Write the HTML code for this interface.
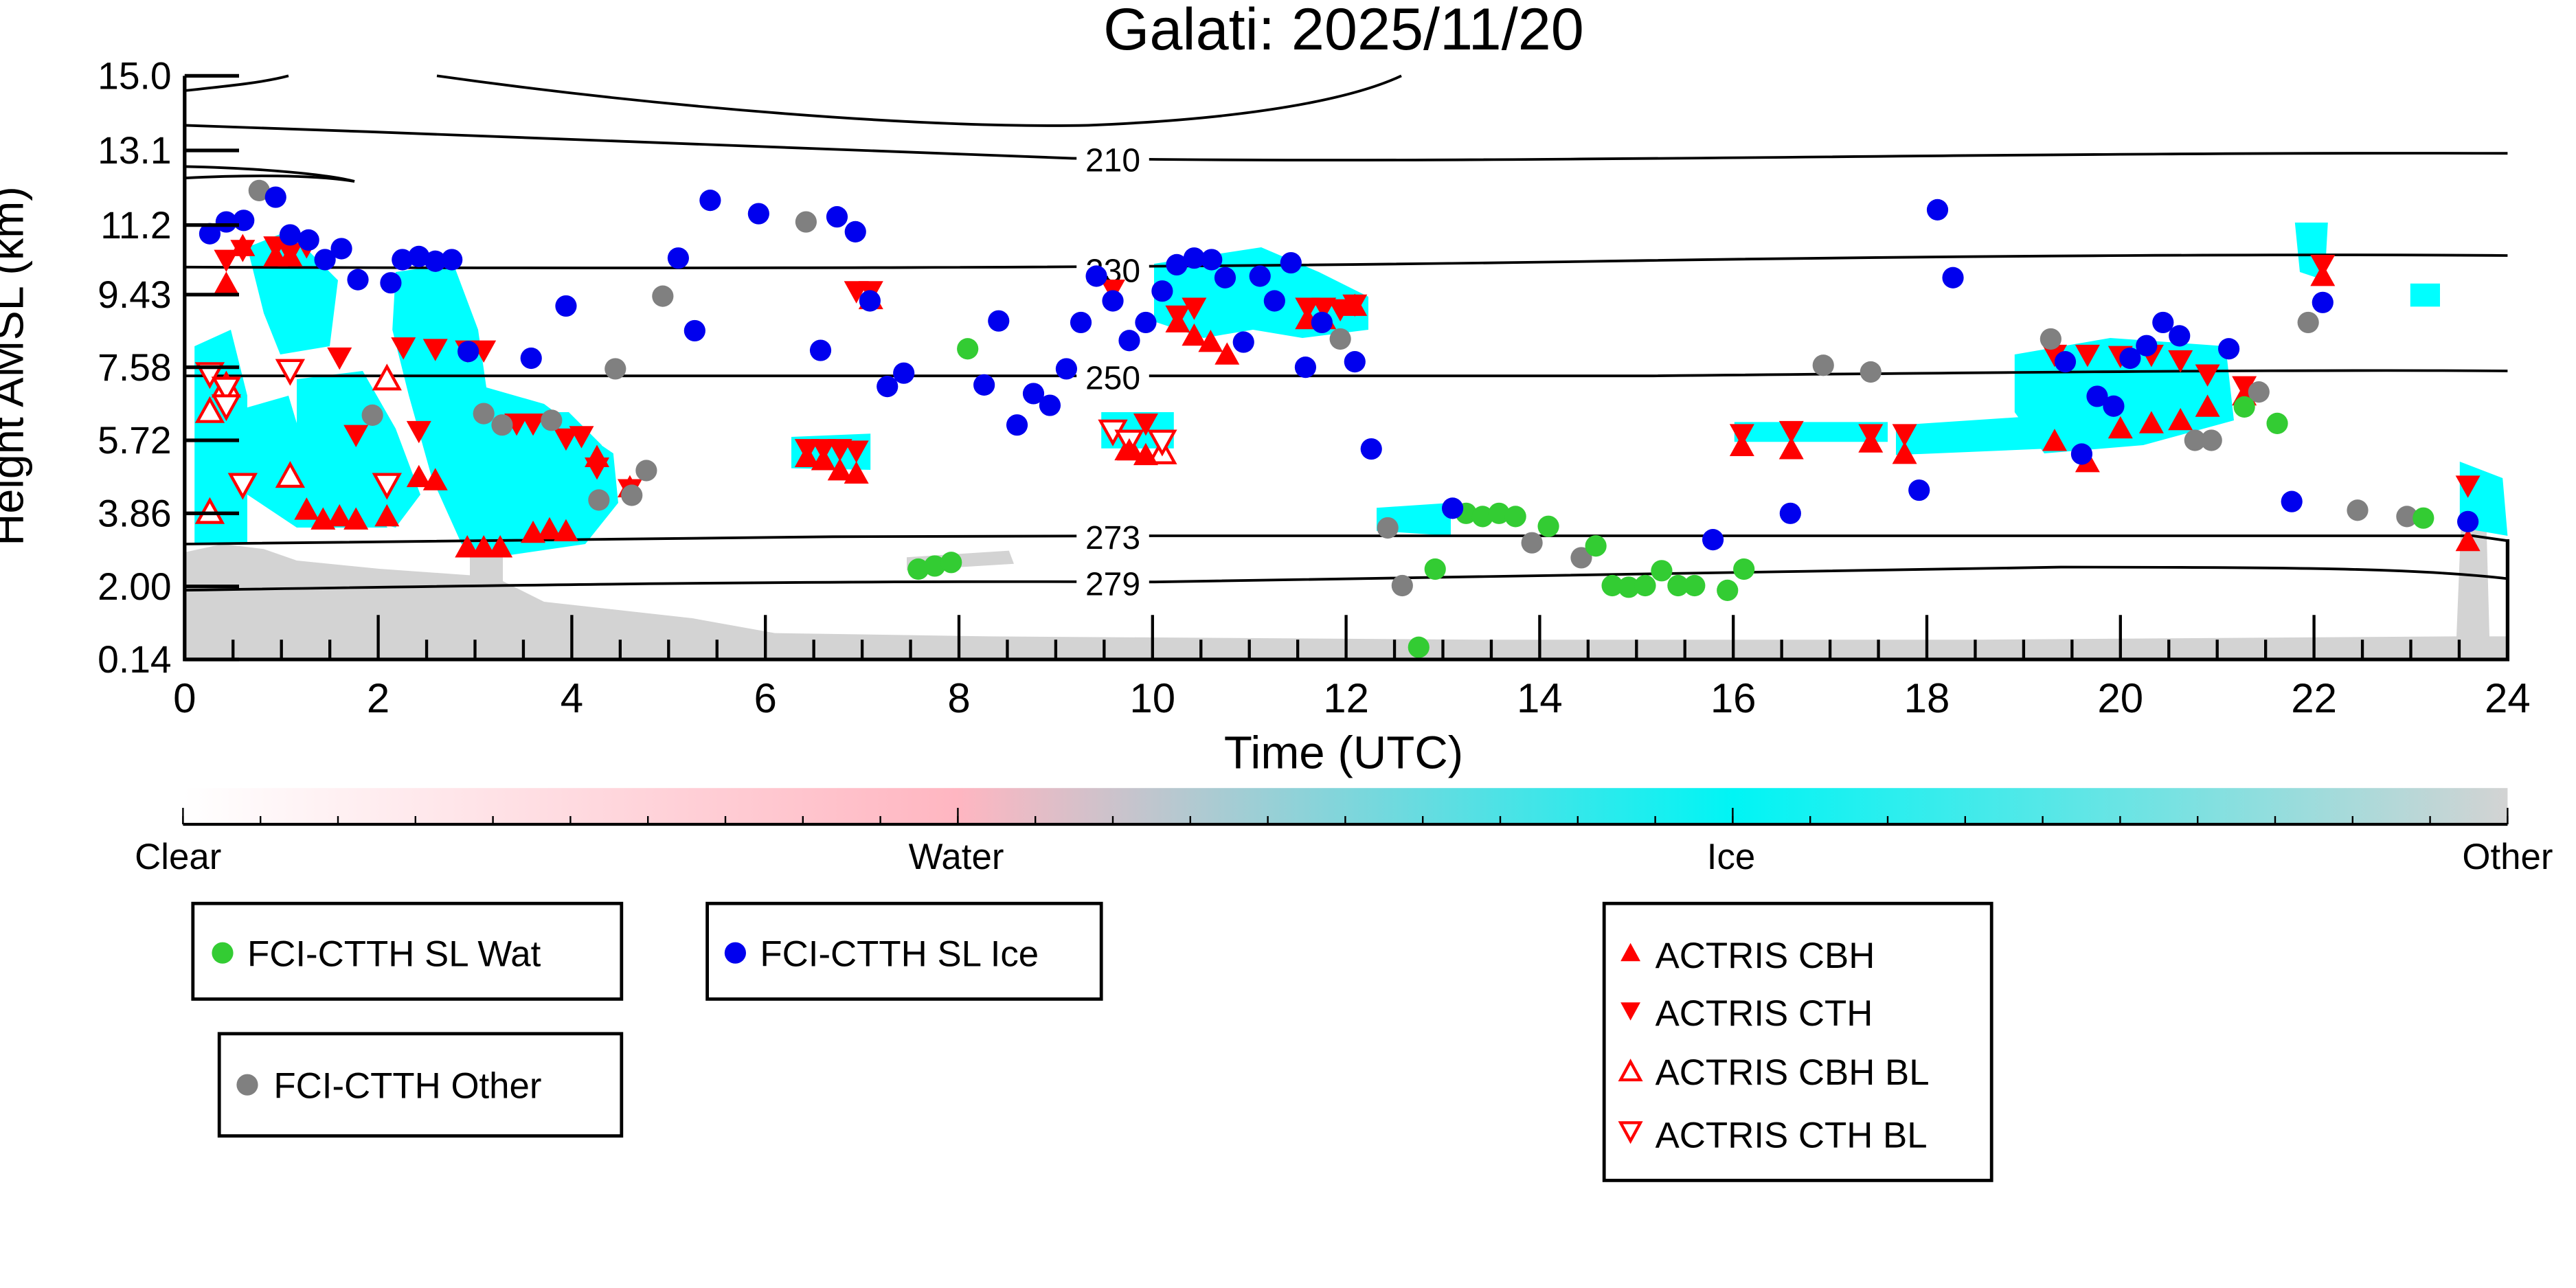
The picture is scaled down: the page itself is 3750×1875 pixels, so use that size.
<!DOCTYPE html>
<html><head><meta charset="utf-8"><style>
html,body{margin:0;padding:0;background:#fff;}
svg{display:block;font-family:"Liberation Sans","DejaVu Sans",sans-serif;}
</style></head><body>
<svg id="chart" width="3750" height="1875" viewBox="0 0 1562.5 781.25" xmlns="http://www.w3.org/2000/svg">
<text x="815" y="30" font-size="36" text-anchor="middle">Galati: 2025/11/20</text>
<g id="bg"></g>
<g id="contours" fill="none" stroke="#000" stroke-width="1.6"></g>
<g id="marks"></g>
<g id="axes"></g>
<text transform="translate(14,222) rotate(-90)" font-size="27" text-anchor="middle">Height AMSL (km)</text>
<text x="815" y="466" font-size="28" text-anchor="middle">Time (UTC)</text>
<defs><linearGradient id="cb" x1="0" x2="1" y1="0" y2="0">
<stop offset="0" stop-color="#ffffff"/><stop offset="0.333" stop-color="#ffb6c1"/><stop offset="0.667" stop-color="#00f5f5"/><stop offset="1" stop-color="#d3d3d3"/></linearGradient></defs>
<g>
<rect x="111" y="478" width="1410" height="22" fill="url(#cb)"/>
<line x1="111" y1="500" x2="1521" y2="500" stroke="#000" stroke-width="1.8"/>
<g id="cbticks" stroke="#000" stroke-width="1"></g>
<text x="108" y="527" font-size="22" text-anchor="middle">Clear</text>
<text x="580" y="527" font-size="22" text-anchor="middle">Water</text>
<text x="1050" y="527" font-size="22" text-anchor="middle">Ice</text>
<text x="1521" y="527" font-size="22" text-anchor="middle">Other</text>
</g>
<g><rect x="117" y="548" width="260" height="58" fill="#fff" stroke="#000" stroke-width="2"/><circle cx="135" cy="578" r="6.5" fill="#33cc33"/><text x="150" y="586" font-size="22">FCI-CTTH SL Wat</text></g>
<g><rect x="429" y="548" width="239" height="58" fill="#fff" stroke="#000" stroke-width="2"/><circle cx="446" cy="578" r="6.5" fill="#0000ee"/><text x="461" y="586" font-size="22">FCI-CTTH SL Ice</text></g>
<g><rect x="133" y="627" width="244" height="62" fill="#fff" stroke="#000" stroke-width="2"/><circle cx="150" cy="658" r="6.5" fill="#808080"/><text x="166" y="666" font-size="22">FCI-CTTH Other</text></g>
<g><rect x="973" y="548" width="235" height="168" fill="#fff" stroke="#000" stroke-width="2"/>
<polygon points="989,572 995,583 983,583" fill="#f00"/><text x="1004" y="587" font-size="22">ACTRIS CBH</text>
<polygon points="983,608 995,608 989,619" fill="#f00"/><text x="1004" y="622" font-size="22">ACTRIS CTH</text>
<polygon points="989,644 995,655 983,655" fill="none" stroke="#f00" stroke-width="1.8"/><text x="1004" y="658" font-size="22">ACTRIS CBH BL</text>
<polygon points="983,681 995,681 989,692" fill="none" stroke="#f00" stroke-width="1.8"/><text x="1004" y="696" font-size="22">ACTRIS CTH BL</text>
</g>
</svg>
<script>
// ---- data (time in h UTC, height in km) ----
const yTickLabels = ["0.14","2.00","3.86","5.72","7.58","9.43","11.2","13.1","15.0"];
const yTickValues = [0.14,2.00,3.86,5.72,7.58,9.43,11.2,13.1,15.0];
const xTickValues = [0,2,4,6,8,10,12,14,16,18,20,22,24];
const iceT = [0.26,0.43,0.61,0.94,1.09,1.28,1.45,1.62,1.79,2.13,2.25,2.42,2.59,2.76,2.93,3.58,3.94,5.10,5.27,5.43,5.93,6.57,6.74,6.93,7.08,7.26,7.43,8.26,8.41,8.60,8.77,8.94,9.11,9.26,9.42,9.59,9.76,9.93,10.10,10.25,10.43,10.61,10.75,10.94,11.11,11.26,11.43,11.58,11.75,12.09,12.26,13.10,15.79,16.59,17.92,18.11,18.27,19.43,19.60,19.76,19.93,20.10,20.27,20.44,20.61,21.12,21.77,22.09,23.59];
const iceH = [10.98,11.28,11.32,11.91,10.95,10.82,10.32,10.60,9.81,9.73,10.32,10.40,10.28,10.32,7.98,7.81,9.14,10.36,8.51,11.83,11.49,8.01,11.41,11.03,9.27,7.09,7.43,7.13,8.76,6.11,6.91,6.61,7.54,8.72,9.90,9.27,8.26,8.72,9.52,10.19,10.36,10.32,9.86,8.22,9.90,9.27,10.24,7.58,8.72,7.72,5.50,3.99,3.19,3.86,4.45,11.59,9.86,7.72,5.37,6.84,6.59,7.81,8.13,8.72,8.38,8.05,4.16,9.23,3.65];
const othT = [0.77,1.94,3.09,3.28,3.79,4.28,4.45,4.62,4.77,4.94,6.42,11.94,12.43,12.58,13.92,14.43,16.93,17.42,19.28,20.77,20.94,21.43,21.94,22.45,22.96];
const othH = [12.08,6.36,6.40,6.11,6.23,4.20,7.54,4.32,4.95,9.39,11.28,8.30,3.49,2.02,3.11,2.73,7.63,7.46,8.30,5.72,5.72,6.95,8.72,3.94,3.78];
const watT = [8.09,7.58,7.75,7.92,12.92,12.75,13.24,13.41,13.58,13.75,14.09,14.58,14.75,14.92,15.09,15.26,15.43,15.60,15.94,16.11,21.28,21.62,23.13];
const watH = [8.05,2.44,2.52,2.61,2.44,0.45,3.86,3.78,3.86,3.78,3.53,3.03,2.02,1.98,2.02,2.40,2.02,2.02,1.90,2.44,6.57,6.15,3.74];
const cbhT = [0.43,0.60,0.94,1.09,1.26,1.43,1.60,1.77,2.09,2.42,2.59,2.92,3.09,3.26,3.60,3.77,3.94,4.26,4.60,6.43,6.60,6.77,6.94,7.09,9.76,9.93,10.26,10.43,10.60,10.77,11.60,11.77,12.09,16.09,16.60,17.42,17.77,19.32,19.66,20.00,20.32,20.62,20.90,21.28,22.09,23.59];
const cbhH = [9.70,10.66,10.40,10.40,3.95,3.70,3.78,3.70,3.78,4.78,4.70,2.99,2.99,2.99,3.36,3.45,3.40,5.29,4.52,5.29,5.21,4.95,4.87,9.31,5.46,5.34,8.72,8.38,8.22,7.90,8.80,8.80,9.14,5.57,5.49,5.66,5.37,5.70,5.16,6.02,6.15,6.23,6.57,6.86,9.90,3.15];
const cthT = [0.43,0.60,0.94,1.26,1.09,1.60,1.77,2.26,2.42,2.59,2.92,3.09,3.43,3.60,3.94,4.10,4.26,4.60,6.43,6.60,6.77,6.94,6.94,7.09,9.59,9.93,10.26,10.43,11.60,11.77,11.94,12.09,16.09,16.60,17.42,17.77,19.32,19.66,20.00,20.32,20.62,20.90,21.28,22.09,23.59];
const cthH = [10.32,10.57,10.66,10.66,10.49,7.83,5.86,8.09,5.96,8.05,8.01,8.01,6.15,6.15,5.77,5.83,5.03,4.48,5.50,5.50,5.50,5.46,9.52,9.52,9.56,6.15,8.90,9.10,9.10,9.10,9.06,9.18,5.88,5.96,5.88,5.88,7.90,7.90,7.87,7.90,7.76,7.40,7.10,10.19,4.57];
const cbhBlT = [0.26,0.26,0.43,1.09,2.09,9.76,10.10];
const cbhBlH = [3.88,6.45,7.10,4.80,7.28,5.50,5.40];
const cthBlT = [0.26,0.43,0.43,0.60,1.09,2.09,9.59,9.76,10.10];
const cthBlH = [7.42,7.05,6.60,4.60,7.50,4.60,5.96,5.70,5.70];

const NS="http://www.w3.org/2000/svg";
const X0=112,X1=1521,YB=400,YT=46;
const xs=t=>X0+(X1-X0)*t/24;
const ys=h=>YB-(YB-YT)*(h-0.14)/(15.0-0.14);
function mk(tag,attrs,parent){const e=document.createElementNS(NS,tag);for(const k in attrs)e.setAttribute(k,attrs[k]);parent.appendChild(e);return e;}
const bg=document.getElementById('bg'),ct=document.getElementById('contours'),mg=document.getElementById('marks'),ax=document.getElementById('axes');

const polys=[
 ["#d3d3d3","112,335 135,330 160,333 180,340 230,345 300,350 330,365 420,375 470,384 600,386 900,388 1200,388 1490,386 1493,312 1508,312 1510,386 1521,386 1521,400 112,400"],
 ["#d3d3d3","550,338 612,334 615,342 550,346"],
 ["#d3d3d3","285,300 305,300 305,370 285,370"],
 ["#00ffff","118,210 140,200 150,240 150,330 118,330"],
 ["#00ffff","150,150 175,140 205,170 200,210 170,215 160,190"],
 ["#00ffff","140,250 175,240 190,290 220,300 235,320 180,320 150,300"],
 ["#00ffff","240,165 275,160 290,200 295,235 330,245 350,260 372,275 375,305 355,330 300,338 280,330 262,290 248,240 238,200"],
 ["#00ffff","180,230 220,225 240,260 255,300 240,320 200,310 180,280"],
 ["#00ffff","315,250 345,250 365,270 372,300 345,310 325,295"],
 ["#00ffff","480,265 528,263 528,285 480,284"],
 ["#00ffff","668,250 712,250 712,272 668,272"],
 ["#00ffff","700,160 765,150 800,165 830,180 830,200 790,205 760,200 730,205 700,195"],
 ["#00ffff","835,308 880,305 880,325 835,322"],
 ["#00ffff","1052,256 1145,256 1145,268 1052,268"],
 ["#00ffff","1150,258 1240,252 1245,272 1150,276"],
 ["#00ffff","1222,215 1280,205 1350,210 1355,255 1300,270 1240,275 1222,250"],
 ["#00ffff","1392,135 1412,135 1410,170 1395,165"],
 ["#00ffff","1462,172 1480,172 1480,186 1462,186"],
 ["#00ffff","1492,280 1518,290 1521,325 1492,320"]
];
polys.forEach(p=>{
 const e=mk('polygon',{points:p[1],fill:p[0]},bg);
 
 
});

const lines=[
 "M175,46 C160,50 140,52 112,55",
 "M265,46 C400,65 560,78 660,76 C760,72 820,60 850,46",
 "M112,76 C300,82 500,92 650,96 C900,100 1200,92 1521,93",
 "M112,101 C160,102 200,106 215,110",
 "M112,108 C150,106 190,106 215,110",
 "M112,162 C400,163 700,163 1000,158 C1200,155 1400,154 1521,155",
 "M112,228 C400,228 700,229 1000,228 C1200,226 1400,224 1521,225",
 "M112,330 C250,327 500,325 700,325 C1000,324 1300,323 1500,325 L1521,328",
 "M112,358 C300,355 500,352 700,353 C900,351 1100,345 1250,344 C1400,344 1470,345 1521,351"
];
lines.forEach(d=>{const e=mk('path',{d:d},ct);
 
 });
[["210",675,104],["230",675,171],["250",675,236],["273",675,333],["279",675,361]].forEach(l=>{
 const r=mk('rect',{x:l[1]-22,y:l[2]-17,width:44,height:22,fill:'#fff'},ct);r.setAttribute('stroke','none');
 const t=mk('text',{x:l[1],y:l[2],'font-size':20,'text-anchor':'middle',fill:'#000',stroke:'none'},ct);t.textContent=l[0];
 
 
});

function circles(T,H,col,name){T.forEach((t,i)=>{const c=mk('circle',{cx:xs(t),cy:ys(H[i]),r:6.5,fill:col},mg);
 
 });}
function tris(T,H,up,filled,name){T.forEach((t,i)=>{const x=xs(t),y=ys(H[i]),s=7.5;
 const pts=up?`${x},${y-s} ${x+s},${y+s*0.8} ${x-s},${y+s*0.8}`:`${x-s},${y-s*0.8} ${x+s},${y-s*0.8} ${x},${y+s}`;
 const p=mk('polygon',{points:pts,fill:filled?'#f00':'#fff',stroke:'#f00','stroke-width':filled?0:1.8},mg);
 
 });}
tris(cbhBlT,cbhBlH,true,false,'actris-cbh-bl-marker');
tris(cthBlT,cthBlH,false,false,'actris-cth-bl-marker');
tris(cbhT,cbhH,true,true,'actris-cbh-marker');
tris(cthT,cthH,false,true,'actris-cth-marker');
circles(othT,othH,'#808080','fci-other-point');
circles(watT,watH,'#33cc33','fci-water-point');
circles(iceT,iceH,'#0000ee','fci-ice-point');

mk('path',{d:`M${X0},${YT} L${X0},${YB} L${X1},${YB} L${X1},${ys(3.2)}`,fill:'none',stroke:'#000','stroke-width':2.2},ax);
yTickValues.forEach((v,i)=>{const y=ys(v);
 const l=mk('line',{x1:X0,y1:y,x2:X0+33,y2:y,stroke:'#000','stroke-width':2.2},ax);
 
 
 const t=mk('text',{x:X0-8,y:y+8,'font-size':23,'text-anchor':'end'},ax);t.textContent=yTickLabels[i];
 
 });
for(let t=0;t<=24;t+=0.5){const x=xs(t);const major=Number.isInteger(t/2);
 const l=mk('line',{x1:x,y1:YB,x2:x,y2:YB-(major?27:12),stroke:'#000','stroke-width':1.8},ax);
 
 }
xTickValues.forEach(v=>{const t=mk('text',{x:xs(v),y:YB+32,'font-size':25,'text-anchor':'middle'},ax);t.textContent=String(v);
 
 });
const cbt=document.getElementById('cbticks');
for(let i=0;i<=30;i++){const x=111+1410*i/30;mk('line',{x1:x,y1:500,x2:x,y2:495},cbt);}
for(let i=0;i<=3;i++){const x=111+1410*i/3;mk('line',{x1:x,y1:500,x2:x,y2:490},cbt);}
</script>
</body></html>
